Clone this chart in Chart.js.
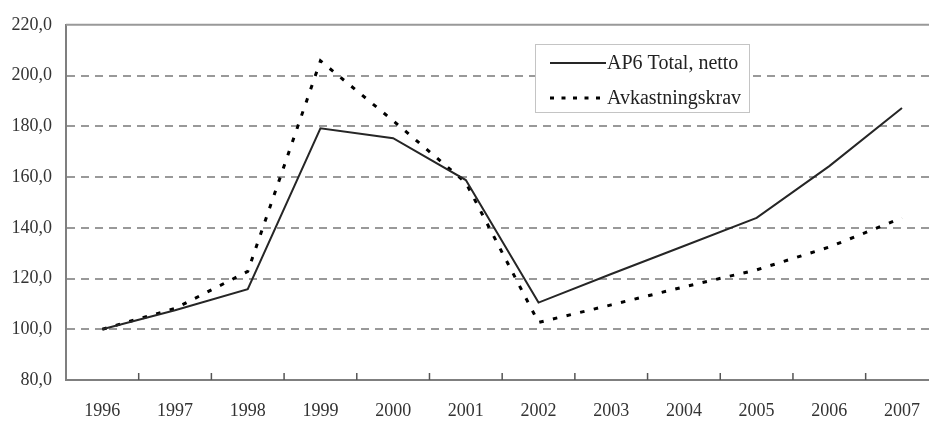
<!DOCTYPE html>
<html>
<head>
<meta charset="utf-8">
<script src="https://cdn.jsdelivr.net/npm/chart.js@4"></script>
<style>
  html, body { margin: 0; padding: 0; background: #fff; overflow: hidden; }
  #wrap { width: 929px; height: 421px; overflow: hidden; }
</style>
</head>
<body>
<div id="wrap"><canvas id="chart" width="940" height="421"></canvas></div>
<script>
// --- Data ---
const years = ['1996', '1997', '1998', '1999', '2000', '2001', '2002', '2003', '2004', '2005', '2006', '2007'];
const ap6Total = [100, 107.5, 115.8, 179.2, 175.3, 158.8, 110.5, 121.8, 132.8, 143.9, 164.3, 187.2];
const avkastningskrav = [100, 108.2, 122.8, 205.8, 182.2, 157.8, 102.7, 109.6, 116.7, 123.4, 132.4, 143.9];
const seriesLabels = ['AP6 Total, netto', 'Avkastningskrav'];

const FONT = '"Liberation Serif", "Times New Roman", serif';
const AXIS_GRAY = '#7f7f7f';
const GRID_GRAY = '#999999';

// inward tick marks at category boundaries + solid top frame line
const framePlugin = {
    id: 'frame',
    beforeDatasetsDraw(chart) {
        const { ctx, chartArea, scales } = chart;
        const x = scales.x;
        ctx.save();
        ctx.strokeStyle = GRID_GRAY;
        ctx.lineWidth = 2;
        ctx.beginPath();
        ctx.moveTo(chartArea.left, chartArea.top);
        ctx.lineTo(chartArea.right, chartArea.top);
        ctx.stroke();

        ctx.strokeStyle = '#555';
        ctx.lineWidth = 1.5;
        for (let i = 1; i < years.length; i++) {
            const px = (x.getPixelForValue(i - 1) + x.getPixelForValue(i)) / 2;
            ctx.beginPath();
            ctx.moveTo(px, chartArea.bottom);
            ctx.lineTo(px, chartArea.bottom - 7);
            ctx.stroke();
        }
        ctx.restore();
    }
};

// boxed legend inside the plot
const boxLegend = {
    id: 'boxLegend',
    afterDraw(chart) {
        const { ctx } = chart;
        const bx = 535, by = 44, bw = 214, bh = 68;
        ctx.save();
        ctx.fillStyle = '#fff';
        ctx.fillRect(bx, by, bw, bh);
        ctx.strokeStyle = '#c4c4c4';
        ctx.lineWidth = 1;
        ctx.strokeRect(bx + 0.5, by + 0.5, bw, bh);

        const rows = [63, 98];
        chart.data.datasets.forEach((ds, i) => {
            const y = rows[i];
            ctx.strokeStyle = ds.borderColor;
            ctx.lineWidth = ds.borderWidth;
            ctx.setLineDash(i === 0 ? [] : [4, 7.5]);
            ctx.beginPath();
            ctx.moveTo(550, y);
            ctx.lineTo(606, y);
            ctx.stroke();
            ctx.setLineDash([]);
            ctx.fillStyle = '#222';
            ctx.font = '20px ' + FONT;
            ctx.textBaseline = 'middle';
            ctx.fillText(ds.label, 607, y + 1);
        });
        ctx.restore();
    }
};

new Chart(document.getElementById('chart'), {
    type: 'line',
    data: {
        labels: years,
        datasets: [
            {
                label: seriesLabels[0],
                data: ap6Total,
                borderColor: '#262626',
                borderWidth: 2,
                pointRadius: 0,
                tension: 0
            },
            {
                label: seriesLabels[1],
                data: avkastningskrav,
                borderColor: '#000000',
                borderWidth: 3,
                borderDash: [4.5, 9.5],
                pointRadius: 0,
                tension: 0
            }
        ]
    },
    options: {
        responsive: false,
        animation: false,
        layout: { padding: { top: 20.5, right: 0, bottom: 0, left: 0 } },
        plugins: {
            legend: { display: false },
            tooltip: { enabled: false }
        },
        scales: {
            x: {
                type: 'category',
                offset: true,
                grid: { display: false, drawTicks: false },
                border: { display: true, color: AXIS_GRAY, width: 2 },
                ticks: {
                    color: '#333',
                    font: { family: FONT, size: 18 },
                    padding: 20,
                    maxRotation: 0,
                    autoSkip: false
                },
                afterFit(scale) { scale.height = 41; }
            },
            y: {
                min: 80,
                max: 220,
                grid: {
                    drawTicks: false,
                    lineWidth: 2,
                    color: (c) => (c.tick && (c.tick.value === 80 || c.tick.value === 220)) ? 'rgba(0,0,0,0)' : GRID_GRAY
                },
                border: { display: true, color: AXIS_GRAY, width: 2, dash: [8, 6] },
                ticks: {
                    stepSize: 20,
                    color: '#333',
                    font: { family: FONT, size: 18 },
                    padding: 14,
                    callback: (v) => v.toFixed(1).replace('.', ',')
                },
                afterFit(scale) { scale.width = 66; }
            }
        }
    },
    plugins: [framePlugin, boxLegend]
});
</script>
</body>
</html>
